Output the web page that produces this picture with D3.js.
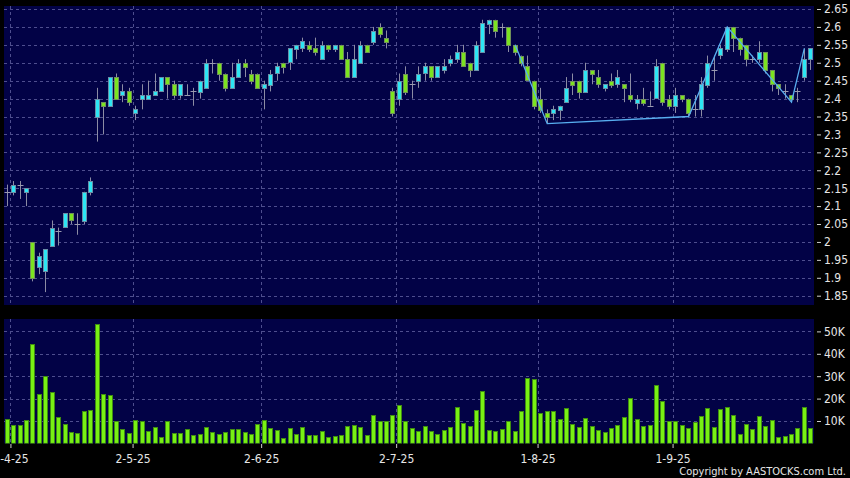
<!DOCTYPE html>
<html>
<head>
<meta charset="utf-8">
<script src="https://cdn.jsdelivr.net/npm/d3@7"></script>
<style>
  html, body { margin: 0; padding: 0; background: #000; }
  svg { display: block; }
</style>
</head>
<body>
<div id="chart"></div>
<script>
// Daily prices, 31-3-25 .. 30-9-25 (one entry per trading day)
const openP = [
  2.14, 2.14, 2.16, 2.14, 2.00, 1.93, 1.92, 1.99, 2.03, 2.04,
  2.08, 2.05, 2.06, 2.14, 2.35, 2.39, 2.38, 2.46, 2.41, 2.42,
  2.36, 2.40, 2.40, 2.41, 2.42, 2.46, 2.44, 2.41, 2.41, 2.42,
  2.42, 2.43, 2.50, 2.50, 2.47, 2.43, 2.46, 2.50, 2.47, 2.47,
  2.43, 2.44, 2.47, 2.50, 2.50, 2.54, 2.54, 2.55, 2.54, 2.51,
  2.55, 2.54, 2.55, 2.51, 2.46, 2.50, 2.55, 2.56, 2.60, 2.57,
  2.42, 2.40, 2.47, 2.44, 2.45, 2.47, 2.49, 2.46, 2.48, 2.50,
  2.51, 2.53, 2.50, 2.48, 2.53, 2.61, 2.62, 2.60, 2.60, 2.55,
  2.52, 2.49, 2.45, 2.40, 2.36, 2.36, 2.37, 2.39, 2.45, 2.45,
  2.42, 2.48, 2.46, 2.43, 2.45, 2.44, 2.44, 2.41, 2.39, 2.40,
  2.38, 2.40, 2.50, 2.40, 2.38, 2.41, 2.40, 2.37, 2.37, 2.44,
  2.48, 2.52, 2.54, 2.60, 2.57, 2.55, 2.51, 2.51, 2.53, 2.48,
  2.44, 2.42, 2.41, 2.42, 2.46, 2.51
];
const highP = [
  2.16, 2.17, 2.17, 2.15, 2.00, 1.97, 1.98, 2.06, 2.04, 2.08,
  2.08, 2.08, 2.14, 2.18, 2.43, 2.39, 2.46, 2.47, 2.44, 2.43,
  2.38, 2.44, 2.45, 2.47, 2.46, 2.46, 2.45, 2.44, 2.44, 2.43,
  2.45, 2.51, 2.51, 2.50, 2.47, 2.50, 2.51, 2.51, 2.48, 2.47,
  2.45, 2.48, 2.50, 2.50, 2.54, 2.55, 2.57, 2.56, 2.57, 2.56,
  2.55, 2.55, 2.55, 2.53, 2.55, 2.56, 2.55, 2.60, 2.61, 2.59,
  2.43, 2.47, 2.49, 2.45, 2.49, 2.50, 2.49, 2.49, 2.51, 2.52,
  2.55, 2.55, 2.50, 2.56, 2.62, 2.62, 2.62, 2.61, 2.60, 2.55,
  2.52, 2.52, 2.45, 2.43, 2.37, 2.38, 2.38, 2.46, 2.47, 2.45,
  2.50, 2.48, 2.48, 2.44, 2.47, 2.48, 2.44, 2.47, 2.41, 2.43,
  2.42, 2.51, 2.50, 2.41, 2.43, 2.41, 2.40, 2.41, 2.46, 2.52,
  2.52, 2.55, 2.60, 2.60, 2.57, 2.55, 2.52, 2.56, 2.53, 2.48,
  2.44, 2.44, 2.41, 2.43, 2.54, 2.54
];
const lowP = [
  2.10, 2.13, 2.12, 2.10, 1.89, 1.91, 1.86, 1.99, 1.99, 2.04,
  2.05, 2.02, 2.05, 2.13, 2.28, 2.30, 2.38, 2.40, 2.39, 2.38,
  2.34, 2.37, 2.40, 2.41, 2.42, 2.40, 2.40, 2.40, 2.41, 2.38,
  2.40, 2.43, 2.47, 2.45, 2.42, 2.43, 2.46, 2.46, 2.44, 2.43,
  2.37, 2.42, 2.45, 2.47, 2.48, 2.51, 2.53, 2.53, 2.52, 2.51,
  2.53, 2.53, 2.51, 2.46, 2.46, 2.50, 2.53, 2.55, 2.57, 2.54,
  2.35, 2.38, 2.41, 2.40, 2.43, 2.45, 2.45, 2.46, 2.47, 2.49,
  2.50, 2.49, 2.46, 2.48, 2.53, 2.58, 2.57, 2.57, 2.53, 2.52,
  2.49, 2.45, 2.37, 2.36, 2.33, 2.34, 2.34, 2.39, 2.41, 2.40,
  2.42, 2.44, 2.43, 2.42, 2.43, 2.43, 2.39, 2.39, 2.37, 2.38,
  2.38, 2.40, 2.38, 2.37, 2.36, 2.39, 2.35, 2.35, 2.35, 2.43,
  2.45, 2.51, 2.53, 2.53, 2.52, 2.49, 2.50, 2.50, 2.47, 2.42,
  2.41, 2.40, 2.39, 2.39, 2.45, 2.48
];
const closeP = [
  2.14, 2.16, 2.16, 2.15, 1.90, 1.96, 1.98, 2.04, 2.03, 2.08,
  2.06, 2.05, 2.14, 2.17, 2.40, 2.38, 2.46, 2.40, 2.42, 2.39,
  2.37, 2.41, 2.41, 2.42, 2.46, 2.44, 2.41, 2.44, 2.41, 2.42,
  2.45, 2.50, 2.50, 2.47, 2.43, 2.46, 2.50, 2.49, 2.45, 2.43,
  2.44, 2.47, 2.49, 2.49, 2.54, 2.55, 2.56, 2.54, 2.53, 2.55,
  2.54, 2.55, 2.51, 2.46, 2.51, 2.55, 2.53, 2.59, 2.58, 2.56,
  2.36, 2.45, 2.42, 2.44, 2.47, 2.49, 2.46, 2.49, 2.49, 2.51,
  2.53, 2.49, 2.48, 2.55, 2.61, 2.62, 2.59, 2.60, 2.55, 2.53,
  2.50, 2.45, 2.38, 2.37, 2.35, 2.37, 2.38, 2.43, 2.44, 2.42,
  2.48, 2.47, 2.44, 2.44, 2.44, 2.46, 2.43, 2.40, 2.40, 2.39,
  2.38, 2.49, 2.39, 2.38, 2.41, 2.40, 2.36, 2.37, 2.44, 2.50,
  2.48, 2.54, 2.60, 2.57, 2.54, 2.51, 2.51, 2.53, 2.48, 2.44,
  2.43, 2.42, 2.40, 2.42, 2.51, 2.54
];
// Daily turnover volume, thousands of shares
const volumeK = [
  10.7, 8.4, 8.4, 10.4, 44.2, 21.9, 29.9, 23.1, 11.8, 8.7,
  5.1, 4.8, 14.5, 14.9, 53.1, 22.2, 21.5, 10.1, 6.3, 4.5,
  10.4, 10.0, 5.4, 7.3, 3.0, 9.9, 4.5, 4.5, 6.3, 3.7,
  4.3, 7.5, 5.1, 4.0, 5.2, 6.4, 6.4, 4.9, 4.3, 8.5,
  10.6, 6.9, 6.0, 2.5, 6.7, 4.3, 7.3, 3.7, 3.7, 5.5,
  3.0, 3.1, 3.7, 7.6, 8.1, 7.3, 3.7, 12.5, 10.0, 10.0,
  12.8, 17.0, 9.9, 6.7, 5.4, 7.9, 5.4, 4.0, 6.0, 7.5,
  16.3, 9.1, 7.9, 14.9, 23.4, 6.0, 5.4, 6.6, 10.0, 5.5,
  14.3, 29.1, 28.8, 13.7, 14.5, 14.5, 10.9, 16.0, 8.8, 7.2,
  11.2, 7.8, 6.0, 5.1, 6.7, 8.1, 11.6, 20.4, 10.9, 7.9,
  8.2, 26.0, 19.1, 9.9, 10.0, 8.1, 6.9, 9.7, 12.1, 16.0,
  7.3, 15.2, 16.4, 12.7, 4.0, 8.5, 6.3, 12.4, 7.9, 10.4,
  2.8, 3.3, 4.3, 7.0, 16.3, 6.7
];

// First trading day of each month and its label
const monthTickIndex = [1, 20, 40, 61, 83, 104];
const monthTickLabels = ['1-4-25', '2-5-25', '2-6-25', '2-7-25', '1-8-25', '1-9-25'];

const priceTicks = [1.85, 1.9, 1.95, 2, 2.05, 2.1, 2.15, 2.2, 2.25, 2.3, 2.35, 2.4, 2.45, 2.5, 2.55, 2.6, 2.65];
const volumeTicks = [10000, 20000, 30000, 40000, 50000];

// Zigzag trend line turning points (day index, price)
const zigzagIndex = [79, 84, 106, 112, 122, 124];
const zigzagPrice = [2.55, 2.33, 2.35, 2.60, 2.39, 2.54];

const FONT = '"DejaVu Sans Condensed", "DejaVu Sans", sans-serif';
const GRID = '#4e4e8e';
const PANEL = '#020246';

/**
 * Draw the whole chart
 */
function drawChart() {
  const width = 850, height = 478;
  const left = 4, right = 814;
  const priceTop = 6, priceBottom = 305;
  const volTop = 319, volBottom = 443.4;

  const svg = d3.select('#chart')
    .append('svg')
    .attr('width', width)
    .attr('height', height)
    .style('font-family', FONT);

  svg.append('rect')
    .attr('width', width)
    .attr('height', height)
    .attr('fill', '#000');

  const idx = d3.range(openP.length);

  const x = d3.scaleBand()
    .domain(idx)
    .range([left, right])
    .paddingInner(0.22)
    .paddingOuter(0.11);

  // linear version of the day axis, for boundaries and the zigzag
  const xDay = d3.scaleLinear()
    .domain([-0.5, openP.length - 0.5])
    .range([left, right]);

  const yPrice = d3.scaleLinear().domain([1.85, 2.65]).range([295.7, 9]);
  const yVol = d3.scaleLinear().domain([0, 50000]).range([volBottom, 331.4]);

  // Panels
  svg.append('rect')
    .attr('x', left).attr('y', priceTop)
    .attr('width', right - left).attr('height', priceBottom - priceTop)
    .attr('fill', PANEL);
  svg.append('rect')
    .attr('x', left).attr('y', volTop)
    .attr('width', right - left).attr('height', volBottom - volTop)
    .attr('fill', PANEL);

  const defs = svg.append('defs');
  defs.append('clipPath').attr('id', 'clip-price')
    .append('rect')
    .attr('x', left).attr('y', priceTop)
    .attr('width', right - left).attr('height', priceBottom - priceTop);
  defs.append('clipPath').attr('id', 'clip-vol')
    .append('rect')
    .attr('x', left).attr('y', volTop)
    .attr('width', right - left).attr('height', volBottom - volTop);

  const gPrice = svg.append('g').attr('clip-path', 'url(#clip-price)');
  const gVol = svg.append('g').attr('clip-path', 'url(#clip-vol)');

  const snap = v => Math.round(v) + 0.5;
  const monthEdges = monthTickIndex.map(i => i - 0.5);

  // Grid lines
  gPrice.selectAll('.hgrid')
    .data(priceTicks)
    .enter()
    .append('line')
    .attr('x1', left).attr('x2', right)
    .attr('y1', d => snap(yPrice(d))).attr('y2', d => snap(yPrice(d)))
    .attr('stroke', GRID)
    .attr('stroke-dasharray', '3,3');

  gVol.selectAll('.hgrid')
    .data(volumeTicks)
    .enter()
    .append('line')
    .attr('x1', left).attr('x2', right)
    .attr('y1', d => snap(yVol(d))).attr('y2', d => snap(yVol(d)))
    .attr('stroke', GRID)
    .attr('stroke-dasharray', '3,3');

  [[gPrice, priceTop, priceBottom], [gVol, volTop, volBottom]].forEach(([g, t, b]) => {
    g.selectAll('.vgrid')
      .data(monthEdges)
      .enter()
      .append('line')
      .attr('x1', d => snap(xDay(d))).attr('x2', d => snap(xDay(d)))
      .attr('y1', t).attr('y2', b)
      .attr('stroke', GRID)
      .attr('stroke-dasharray', '3,3');
  });

  // Candles
  const bodyX = i => Math.round(x(i)) + 0.5;
  const bodyW = Math.round(x.bandwidth()) - 1;
  const midX = i => Math.round(x(i)) + Math.round(x.bandwidth()) / 2;

  const candles = gPrice.selectAll('.candle')
    .data(idx)
    .enter()
    .append('g')
    .attr('class', 'candle');

  candles.append('line')
    .attr('x1', midX).attr('x2', midX)
    .attr('y1', i => yPrice(highP[i]))
    .attr('y2', i => yPrice(lowP[i]))
    .attr('stroke', '#8c8ca4')
    .attr('stroke-width', 1);

  candles.filter(i => openP[i] !== closeP[i])
    .append('rect')
    .attr('x', bodyX)
    .attr('width', bodyW)
    .attr('y', i => Math.round(yPrice(Math.max(openP[i], closeP[i]))) + 0.5)
    .attr('height', i => Math.max(1, Math.round(Math.abs(yPrice(openP[i]) - yPrice(closeP[i])))))
    .attr('fill', i => closeP[i] > openP[i] ? '#2de6f4' : '#7be320')
    .attr('stroke', i => closeP[i] > openP[i] ? '#6a8ea6' : '#70905a')
    .attr('stroke-width', 1);

  candles.filter(i => openP[i] === closeP[i])
    .append('line')
    .attr('x1', i => bodyX(i) - 1).attr('x2', i => bodyX(i) + bodyW + 1)
    .attr('y1', i => snap(yPrice(openP[i])))
    .attr('y2', i => snap(yPrice(openP[i])))
    .attr('stroke', '#9a9ab0');

  // Zigzag line
  const zig = zigzagIndex.map((d, k) => [d, zigzagPrice[k]]);
  gPrice.append('path')
    .datum(zig)
    .attr('fill', 'none')
    .attr('stroke', '#58aef0')
    .attr('stroke-width', 1.3)
    .attr('d', d3.line().x(d => xDay(d[0])).y(d => yPrice(d[1])));

  // Volume bars
  gVol.selectAll('.vol')
    .data(idx)
    .enter()
    .append('rect')
    .attr('x', bodyX)
    .attr('width', bodyW)
    .attr('y', i => Math.round(yVol(volumeK[i] * 1000)) + 0.5)
    .attr('height', i => volBottom - Math.round(yVol(volumeK[i] * 1000)) - 0.5)
    .attr('fill', '#78f014')
    .attr('stroke', '#3f8c12')
    .attr('stroke-width', 1);

  // Axes
  const styleAxis = g => {
    g.attr('font-family', FONT).attr('font-size', 12);
    g.select('.domain').remove();
    g.selectAll('.tick line').attr('stroke', '#cfcfcf');
    g.selectAll('.tick text').attr('fill', '#e6e6e6');
  };

  svg.append('g')
    .attr('transform', 'translate(817,0)')
    .call(d3.axisRight(yPrice)
      .tickValues(priceTicks)
      .tickSize(4)
      .tickPadding(3)
      .tickFormat(d => String(+d.toFixed(2))))
    .call(styleAxis);

  svg.append('g')
    .attr('transform', 'translate(817,0)')
    .call(d3.axisRight(yVol)
      .tickValues(volumeTicks)
      .tickSize(4)
      .tickPadding(3)
      .tickFormat(d => (d / 1000) + 'K'))
    .call(styleAxis);

  svg.append('g')
    .attr('transform', 'translate(0,444)')
    .call(d3.axisBottom(xDay)
      .tickValues(monthEdges)
      .tickSize(4)
      .tickPadding(6)
      .tickFormat((d, k) => monthTickLabels[k]))
    .call(styleAxis);

  svg.append('text')
    .attr('x', 846)
    .attr('y', 475)
    .attr('text-anchor', 'end')
    .attr('font-size', 11)
    .attr('fill', '#e6e6e6')
    .text('Copyright by AASTOCKS.com Ltd.');
}

drawChart();
</script>
</body>
</html>
